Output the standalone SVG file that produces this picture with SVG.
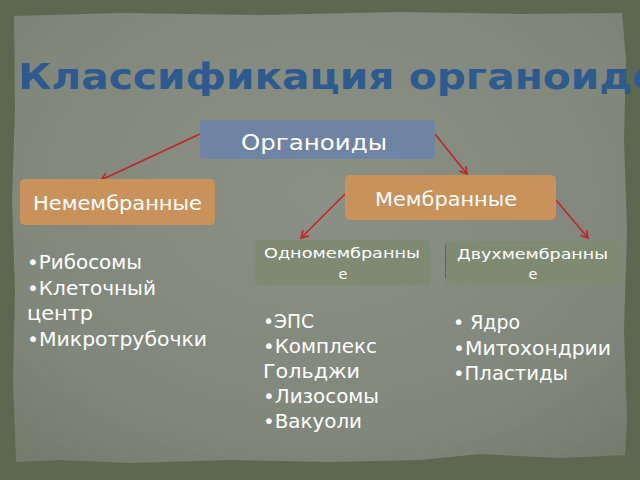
<svg xmlns="http://www.w3.org/2000/svg" width="640" height="480" viewBox="0 0 640 480">
<style>
text{font-family:"DejaVu Sans","Noto Sans",sans-serif;fill:#ffffff}
.title{font-weight:bold;font-size:35px;fill:#2d5a8f}
.big{font-size:21px}
.mid{font-size:19px}
.small{font-size:14.5px}
.li{font-size:19px}
.conn{stroke:#c4222b;stroke-width:1.6;fill:none;marker-end:url(#ah)}
</style>
<defs>
<radialGradient id="paper" cx="0.5" cy="0.4" r="0.75">
<stop offset="0" stop-color="#8b9085"/>
<stop offset="0.7" stop-color="#82877b"/>
<stop offset="1" stop-color="#757c6e"/>
</radialGradient>
<marker id="ah" markerWidth="10" markerHeight="10" refX="8" refY="5" orient="auto" markerUnits="userSpaceOnUse">
<path d="M1,1 L8,5 L1,9" stroke="#c4222b" stroke-width="1.6" fill="none"/>
</marker>
</defs>
<rect width="640" height="480" fill="#5d6851"/>
<path d="M14,16 L120,13 L260,15 L400,12 L520,14 L622,13 L626,60 L624,140 L627,230 L624,330 L627,420 L625,455 L560,458 L480,454 L420,460 L330,462 L230,460 L130,463 L60,460 L16,462 L13,380 L15,290 L12,200 L15,110 Z" fill="url(#paper)"/>
<text class="title" x="18" y="89" textLength="668" lengthAdjust="spacingAndGlyphs">Классификация органоидов</text>
<g id="connectors">
<line class="conn" x1="200" y1="134" x2="101" y2="180"/>
<line class="conn" x1="435" y1="134" x2="467" y2="174"/>
<line class="conn" x1="345" y1="194" x2="301" y2="238"/>
<line class="conn" x1="556" y1="200" x2="588" y2="238"/>
</g>
<g id="organoidy">
<rect x="200" y="120" width="235" height="39" rx="4" fill="#6f83a4"/>
<text class="big" x="241" y="150" textLength="146" lengthAdjust="spacingAndGlyphs">Органоиды</text>
</g>
<g id="nemembrannye">
<rect x="20" y="179" width="195" height="46" rx="5" fill="#c8925a"/>
<text class="mid" x="33" y="210" textLength="169" lengthAdjust="spacingAndGlyphs">Немембранные</text>
</g>
<g id="membrannye">
<rect x="345" y="175" width="211" height="45" rx="5" fill="#c8925a"/>
<text class="mid" x="375" y="206" textLength="142" lengthAdjust="spacingAndGlyphs">Мембранные</text>
</g>
<g id="odnomembrannye">
<rect x="255" y="240" width="175" height="45" rx="4" fill="#7e8a72"/>
<text class="small" x="264" y="258" textLength="156" lengthAdjust="spacingAndGlyphs">Одномембранны</text>
<text class="small" x="343" y="279" text-anchor="middle">е</text>
</g>
<g id="dvukhmembrannye">
<rect x="445" y="241" width="175" height="44" rx="4" fill="#7e8a72"/>
<line x1="445.5" y1="245" x2="445.5" y2="278" stroke="#5f6558" stroke-width="1"/>
<text class="small" x="457" y="259" textLength="151" lengthAdjust="spacingAndGlyphs">Двухмембранны</text>
<text class="small" x="533" y="279" text-anchor="middle">е</text>
</g>
<g id="list-nemembrannye">
<text class="li" x="27" y="269" textLength="115" lengthAdjust="spacingAndGlyphs">•Рибосомы</text>
<text class="li" x="27" y="295" textLength="129" lengthAdjust="spacingAndGlyphs">•Клеточный</text>
<text class="li" x="27" y="320" textLength="66" lengthAdjust="spacingAndGlyphs">центр</text>
<text class="li" x="27" y="346" textLength="180" lengthAdjust="spacingAndGlyphs">•Микротрубочки</text>
</g>
<g id="list-odnomembrannye">
<text class="li" x="263" y="328" textLength="51" lengthAdjust="spacingAndGlyphs">•ЭПС</text>
<text class="li" x="263" y="353" textLength="114" lengthAdjust="spacingAndGlyphs">•Комплекс</text>
<text class="li" x="263" y="378" textLength="97" lengthAdjust="spacingAndGlyphs">Гольджи</text>
<text class="li" x="263" y="403" textLength="116" lengthAdjust="spacingAndGlyphs">•Лизосомы</text>
<text class="li" x="263" y="428" textLength="99" lengthAdjust="spacingAndGlyphs">•Вакуоли</text>
</g>
<g id="list-dvukhmembrannye">
<text class="li" x="453" y="329" textLength="67" lengthAdjust="spacingAndGlyphs">• Ядро</text>
<text class="li" x="453" y="355" textLength="158" lengthAdjust="spacingAndGlyphs">•Митохондрии</text>
<text class="li" x="453" y="380" textLength="115" lengthAdjust="spacingAndGlyphs">•Пластиды</text>
</g>
</svg>
